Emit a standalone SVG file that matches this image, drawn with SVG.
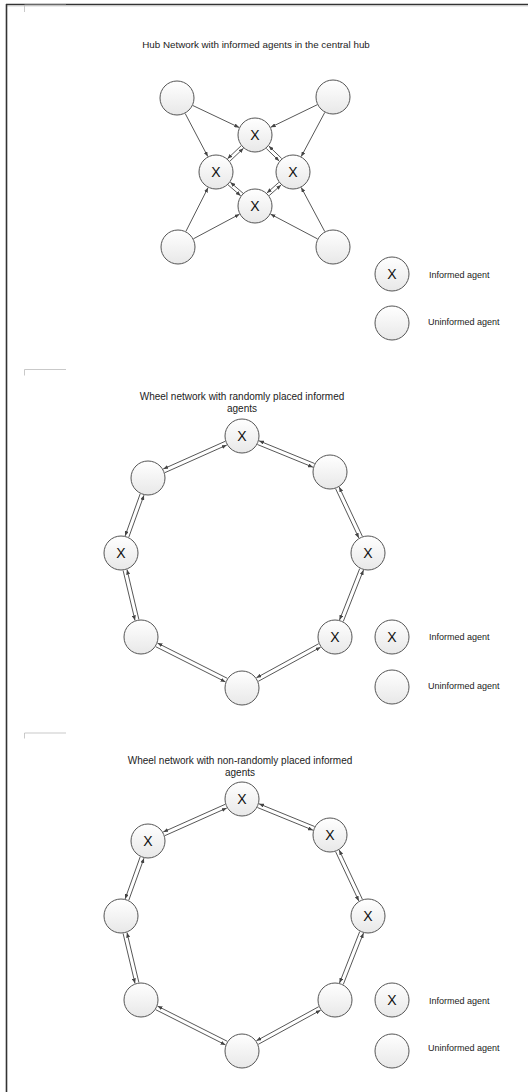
<svg xmlns="http://www.w3.org/2000/svg" width="528" height="1092" viewBox="0 0 528 1092">
<defs>
<linearGradient id="nodeFill" x1="0" y1="0" x2="0" y2="1">
<stop offset="0" stop-color="#ffffff"/>
<stop offset="1" stop-color="#e8e8e8"/>
</linearGradient>
<marker id="ah" markerUnits="userSpaceOnUse" markerWidth="5" markerHeight="4" refX="5" refY="2" orient="auto">
<path d="M0,0 L5,2 L0,4 z" fill="#444"/>
</marker>
<style>
.node circle { fill:url(#nodeFill); stroke:#555; stroke-width:1; }
.node text { font-family:"Liberation Sans", Arial, sans-serif; font-size:14px; fill:#111; text-anchor:middle; }
.edges line { stroke:#444; stroke-width:0.9; fill:none; marker-end:url(#ah); }
.title { font-family:"Liberation Sans", Arial, sans-serif; font-size:10px; fill:#222; text-anchor:middle; }
.legend { font-family:"Liberation Sans", Arial, sans-serif; font-size:9px; fill:#222; }
.frame { stroke:#333; stroke-width:1.6; fill:none; }
.mark { stroke:#bbb; stroke-width:0.8; fill:none; }
</style>
</defs>
<rect x="0" y="0" width="528" height="1092" fill="#ffffff"/>

<!-- page frame -->
<g id="frame">
<line class="frame" x1="6" y1="4.5" x2="528" y2="4.5"/>
<line x1="7" y1="6" x2="528" y2="6" stroke="#ccc" stroke-width="0.8"/>
<line class="frame" x1="6.5" y1="4" x2="6.5" y2="1092"/>
<path class="mark" d="M24.5,5 V12 M24.5,5 H66"/>
<path class="mark" d="M24.5,369.5 V375.5 M24.5,369.5 H66"/>
<path class="mark" d="M24.5,733 V738.5 M24.5,733 H66"/>
</g>

<!-- ===== Hub network ===== -->
<text class="title" x="256" y="47.5" style="font-size:9.8px">Hub Network with informed agents in the central hub</text>
<g id="hub-edges" class="edges">
<line x1="192.8" y1="105.5" x2="239.2" y2="127.5"/>
<line x1="185.2" y1="113.5" x2="207.8" y2="156.5"/>
<line x1="317.3" y1="104.7" x2="270.7" y2="127.3"/>
<line x1="324.8" y1="112.4" x2="301.2" y2="156.6"/>
<line x1="185.9" y1="231.4" x2="208.1" y2="187.6"/>
<line x1="193.4" y1="238.8" x2="239.5" y2="214.2"/>
<line x1="324.8" y1="231.6" x2="301.2" y2="187.4"/>
<line x1="317.5" y1="238.9" x2="270.5" y2="214.1"/>
<line x1="241.1" y1="145.8" x2="227.5" y2="158.7"/>
<line x1="229.9" y1="161.2" x2="243.5" y2="148.3"/>
<line x1="266.3" y1="148.5" x2="279.2" y2="161.0"/>
<line x1="281.7" y1="158.5" x2="268.8" y2="146.0"/>
<line x1="228.0" y1="184.8" x2="240.7" y2="195.8"/>
<line x1="243.0" y1="193.2" x2="230.3" y2="182.2"/>
<line x1="278.8" y1="182.4" x2="266.9" y2="193.0"/>
<line x1="269.2" y1="195.6" x2="281.1" y2="185.0"/>
</g>
<g id="hub-tl" class="node"><circle cx="177" cy="98" r="17"/></g>
<g id="hub-tr" class="node"><circle cx="333" cy="97" r="17"/></g>
<g id="hub-bl" class="node"><circle cx="178" cy="247" r="17"/></g>
<g id="hub-br" class="node"><circle cx="333" cy="247" r="17"/></g>
<g id="hub-t" class="node"><circle cx="255" cy="135" r="17"/><text x="255" y="140">X</text></g>
<g id="hub-l" class="node"><circle cx="216" cy="172" r="17"/><text x="216" y="177">X</text></g>
<g id="hub-r" class="node"><circle cx="293" cy="172" r="17"/><text x="293" y="177">X</text></g>
<g id="hub-b" class="node"><circle cx="255" cy="206" r="17"/><text x="255" y="211">X</text></g>
<g id="legend1-informed" class="node"><circle cx="392" cy="274" r="17"/><text x="392" y="279">X</text></g>
<text class="legend" x="429" y="277.5">Informed agent</text>
<g id="legend1-uninformed" class="node"><circle cx="392" cy="323" r="17"/></g>
<text class="legend" x="428" y="324.7">Uninformed agent</text>

<!-- ===== Wheel network 1 ===== -->
<text class="title" x="242" y="399.5">Wheel network with randomly placed informed</text>
<text class="title" x="242" y="411.5">agents</text>
<g id="wheel1-edges" class="edges">
<line x1="225.2" y1="441.3" x2="163.2" y2="469.0"/>
<line x1="164.8" y1="472.7" x2="226.8" y2="445.0"/>
<line x1="257.4" y1="444.5" x2="313.0" y2="467.2"/>
<line x1="314.6" y1="463.5" x2="259.0" y2="440.8"/>
<line x1="140.2" y1="493.8" x2="125.1" y2="535.9"/>
<line x1="128.8" y1="537.2" x2="144.0" y2="495.2"/>
<line x1="335.6" y1="488.7" x2="358.8" y2="538.0"/>
<line x1="362.4" y1="536.3" x2="339.2" y2="487.0"/>
<line x1="123.1" y1="570.5" x2="135.0" y2="620.4"/>
<line x1="138.9" y1="619.5" x2="127.0" y2="569.6"/>
<line x1="359.7" y1="568.6" x2="339.5" y2="620.0"/>
<line x1="343.3" y1="621.4" x2="363.5" y2="570.0"/>
<line x1="155.7" y1="646.7" x2="225.5" y2="681.9"/>
<line x1="227.3" y1="678.3" x2="157.5" y2="643.1"/>
<line x1="318.7" y1="643.7" x2="256.4" y2="677.8"/>
<line x1="258.3" y1="681.3" x2="320.6" y2="647.2"/>
</g>
<g id="w1-top" class="node"><circle cx="242" cy="436" r="17"/><text x="242" y="441">X</text></g>
<g id="w1-ul" class="node"><circle cx="148" cy="478" r="17"/></g>
<g id="w1-ur" class="node"><circle cx="330" cy="472" r="17"/></g>
<g id="w1-l" class="node"><circle cx="121" cy="553" r="17"/><text x="121" y="558">X</text></g>
<g id="w1-r" class="node"><circle cx="368" cy="553" r="17"/><text x="368" y="558">X</text></g>
<g id="w1-ll" class="node"><circle cx="141" cy="637" r="17"/></g>
<g id="w1-lr" class="node"><circle cx="335" cy="637" r="17"/><text x="335" y="642">X</text></g>
<g id="w1-b" class="node"><circle cx="242" cy="688" r="17"/></g>
<g id="legend2-informed" class="node"><circle cx="392" cy="637" r="17"/><text x="392" y="642">X</text></g>
<text class="legend" x="429" y="640">Informed agent</text>
<g id="legend2-uninformed" class="node"><circle cx="392" cy="687" r="17"/></g>
<text class="legend" x="428" y="688.5">Uninformed agent</text>

<!-- ===== Wheel network 2 ===== -->
<text class="title" x="240" y="763.5">Wheel network with non-randomly placed informed</text>
<text class="title" x="240" y="775.5">agents</text>
<g id="wheel2-edges" class="edges" transform="translate(0,363)">
<line x1="225.2" y1="441.3" x2="163.2" y2="469.0"/>
<line x1="164.8" y1="472.7" x2="226.8" y2="445.0"/>
<line x1="257.4" y1="444.5" x2="313.0" y2="467.2"/>
<line x1="314.6" y1="463.5" x2="259.0" y2="440.8"/>
<line x1="140.2" y1="493.8" x2="125.1" y2="535.9"/>
<line x1="128.8" y1="537.2" x2="144.0" y2="495.2"/>
<line x1="335.6" y1="488.7" x2="358.8" y2="538.0"/>
<line x1="362.4" y1="536.3" x2="339.2" y2="487.0"/>
<line x1="123.1" y1="570.5" x2="135.0" y2="620.4"/>
<line x1="138.9" y1="619.5" x2="127.0" y2="569.6"/>
<line x1="359.7" y1="568.6" x2="339.5" y2="620.0"/>
<line x1="343.3" y1="621.4" x2="363.5" y2="570.0"/>
<line x1="155.7" y1="646.7" x2="225.5" y2="681.9"/>
<line x1="227.3" y1="678.3" x2="157.5" y2="643.1"/>
<line x1="318.7" y1="643.7" x2="256.4" y2="677.8"/>
<line x1="258.3" y1="681.3" x2="320.6" y2="647.2"/>
</g>
<g id="w2-top" class="node"><circle cx="242" cy="799" r="17"/><text x="242" y="804">X</text></g>
<g id="w2-ul" class="node"><circle cx="148" cy="841" r="17"/><text x="148" y="846">X</text></g>
<g id="w2-ur" class="node"><circle cx="330" cy="835" r="17"/><text x="330" y="840">X</text></g>
<g id="w2-l" class="node"><circle cx="121" cy="916" r="17"/></g>
<g id="w2-r" class="node"><circle cx="368" cy="916" r="17"/><text x="368" y="921">X</text></g>
<g id="w2-ll" class="node"><circle cx="141" cy="1000" r="17"/></g>
<g id="w2-lr" class="node"><circle cx="335" cy="1000" r="17"/></g>
<g id="w2-b" class="node"><circle cx="242" cy="1051" r="17"/></g>
<g id="legend3-informed" class="node"><circle cx="392" cy="1000" r="17"/><text x="392" y="1005">X</text></g>
<text class="legend" x="429" y="1003.5">Informed agent</text>
<g id="legend3-uninformed" class="node"><circle cx="392" cy="1051" r="17"/></g>
<text class="legend" x="428" y="1050.5">Uninformed agent</text>
</svg>
